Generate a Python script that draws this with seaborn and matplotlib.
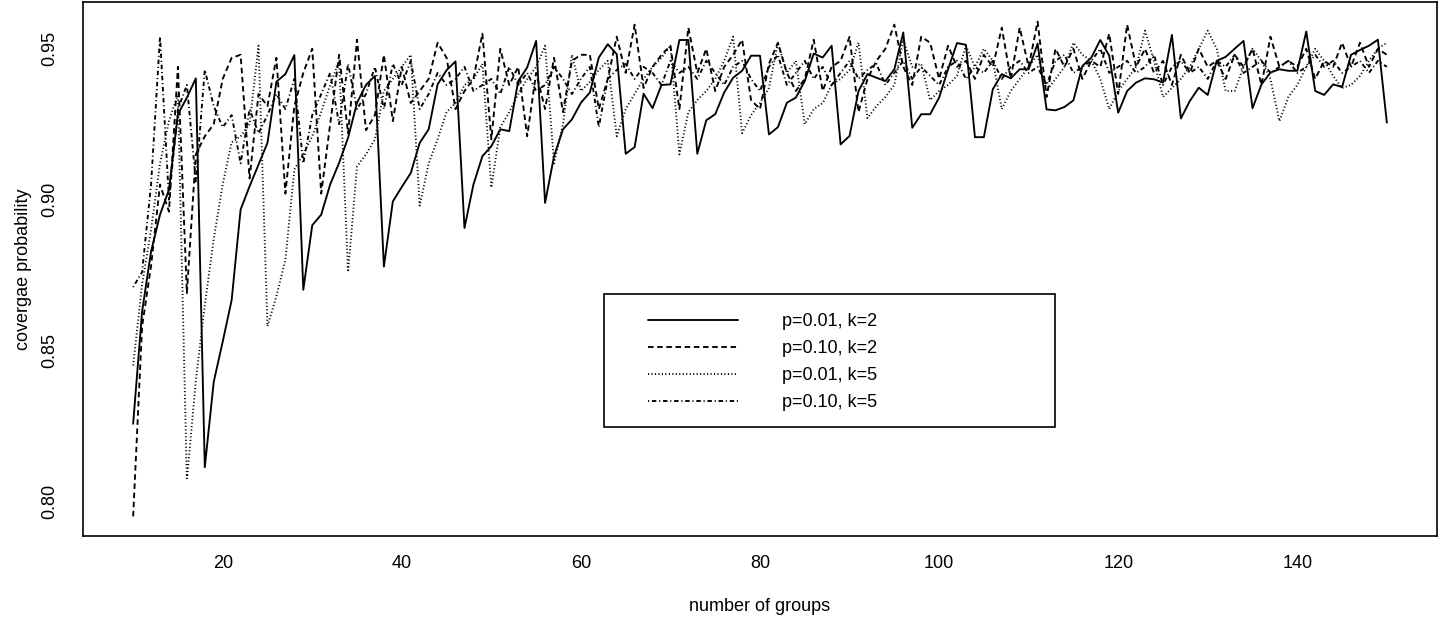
import numpy as np
import pandas as pd
import matplotlib
matplotlib.use("Agg")
import matplotlib.pyplot as plt
from matplotlib.patches import Rectangle
import seaborn as sns

groups = list(range(10, 151))

cov_p01_k2 = [
    0.8257, 0.8629, 0.8828, 0.8950, 0.9033, 0.9283, 0.9338, 0.9402, 0.8113, 0.8396,
    0.8529, 0.8667, 0.8967, 0.9044, 0.9116, 0.9188, 0.9391, 0.9416, 0.9479, 0.8701,
    0.8915, 0.8950, 0.9050, 0.9122, 0.9205, 0.9321, 0.9380, 0.9410, 0.8778, 0.8994,
    0.9042, 0.9088, 0.9188, 0.9233, 0.9382, 0.9429, 0.9458, 0.8906, 0.9050, 0.9144,
    0.9177, 0.9233, 0.9227, 0.9393, 0.9438, 0.9526, 0.8989, 0.9144, 0.9233, 0.9266,
    0.9321, 0.9355, 0.9471, 0.9515, 0.9482, 0.9152, 0.9174, 0.9351, 0.9303, 0.9380,
    0.9382, 0.9529, 0.9529, 0.9152, 0.9263, 0.9283, 0.9355, 0.9404, 0.9427, 0.9477,
    0.9477, 0.9216, 0.9240, 0.9321, 0.9338, 0.9393, 0.9484, 0.9471, 0.9510, 0.9183,
    0.9211, 0.9360, 0.9416, 0.9404, 0.9393, 0.9432, 0.9554, 0.9238, 0.9283, 0.9283,
    0.9338, 0.9432, 0.9519, 0.9513, 0.9207, 0.9207, 0.9366, 0.9416, 0.9402, 0.9432,
    0.9432, 0.9517, 0.9299, 0.9296, 0.9307, 0.9329, 0.9443, 0.9471, 0.9529, 0.9477,
    0.9288, 0.9360, 0.9388, 0.9402, 0.9399, 0.9388, 0.9546, 0.9269, 0.9327, 0.9371,
    0.9347, 0.9460, 0.9473, 0.9500, 0.9526, 0.9303, 0.9382, 0.9421, 0.9432, 0.9427,
    0.9427, 0.9557, 0.9360, 0.9347, 0.9382, 0.9373, 0.9480, 0.9496, 0.9510, 0.9530,
    0.9255,
]

cov_p10_k2 = [
    0.795, 0.858, 0.878, 0.905, 0.896, 0.944, 0.869, 0.915, 0.921, 0.925,
    0.940, 0.947, 0.948, 0.907, 0.935, 0.931, 0.947, 0.902, 0.931, 0.942,
    0.950, 0.902, 0.925, 0.948, 0.922, 0.953, 0.923, 0.928, 0.948, 0.926,
    0.944, 0.932, 0.936, 0.940, 0.952, 0.947, 0.930, 0.936, 0.940, 0.955,
    0.920, 0.950, 0.938, 0.944, 0.921, 0.942, 0.930, 0.947, 0.929, 0.946,
    0.948, 0.948, 0.930, 0.940, 0.954, 0.942, 0.958, 0.937, 0.944, 0.948,
    0.951, 0.930, 0.957, 0.942, 0.950, 0.936, 0.944, 0.948, 0.953, 0.933,
    0.930, 0.945, 0.952, 0.942, 0.936, 0.940, 0.953, 0.936, 0.944, 0.946,
    0.954, 0.929, 0.940, 0.946, 0.950, 0.958, 0.944, 0.938, 0.954, 0.952,
    0.940, 0.951, 0.944, 0.946, 0.940, 0.948, 0.944, 0.957, 0.940, 0.957,
    0.944, 0.959, 0.934, 0.950, 0.944, 0.950, 0.940, 0.946, 0.944, 0.955,
    0.935, 0.958, 0.944, 0.950, 0.942, 0.946, 0.938, 0.948, 0.942, 0.950,
    0.944, 0.946, 0.940, 0.948, 0.944, 0.950, 0.938, 0.954, 0.944, 0.946,
    0.944, 0.950, 0.940, 0.946, 0.944, 0.952, 0.944, 0.952, 0.944, 0.950,
    0.948,
]

cov_p01_k5 = [
    0.845, 0.872, 0.890, 0.912, 0.926, 0.935, 0.807, 0.840, 0.865, 0.887,
    0.905, 0.919, 0.921, 0.925, 0.951, 0.858, 0.868, 0.880, 0.910, 0.915,
    0.921, 0.929, 0.938, 0.946, 0.876, 0.911, 0.915, 0.920, 0.936, 0.940,
    0.944, 0.948, 0.898, 0.912, 0.920, 0.929, 0.932, 0.938, 0.940, 0.945,
    0.904, 0.924, 0.929, 0.935, 0.940, 0.944, 0.951, 0.912, 0.925, 0.948,
    0.936, 0.939, 0.943, 0.946, 0.921, 0.930, 0.935, 0.940, 0.944, 0.947,
    0.951, 0.915, 0.929, 0.933, 0.936, 0.940, 0.946, 0.954, 0.922, 0.928,
    0.932, 0.937, 0.952, 0.942, 0.946, 0.925, 0.930, 0.932, 0.938, 0.940,
    0.943, 0.952, 0.927, 0.931, 0.934, 0.938, 0.953, 0.944, 0.945, 0.933,
    0.936, 0.938, 0.941, 0.951, 0.944, 0.950, 0.946, 0.930, 0.936, 0.940,
    0.944, 0.948, 0.936, 0.940, 0.944, 0.952, 0.948, 0.946, 0.940, 0.930,
    0.936, 0.940, 0.944, 0.956, 0.946, 0.934, 0.937, 0.940, 0.944, 0.950,
    0.956, 0.950, 0.936, 0.936, 0.944, 0.950, 0.946, 0.940, 0.926, 0.934,
    0.938, 0.944, 0.950, 0.946, 0.941, 0.937, 0.938, 0.941, 0.946, 0.950,
    0.952,
]

cov_p10_k5 = [
    0.871, 0.876, 0.905, 0.954, 0.900, 0.930, 0.938, 0.906, 0.943, 0.931,
    0.924, 0.928, 0.912, 0.930, 0.922, 0.928, 0.935, 0.930, 0.940, 0.912,
    0.928, 0.935, 0.942, 0.925, 0.945, 0.930, 0.935, 0.944, 0.930, 0.945,
    0.938, 0.946, 0.930, 0.935, 0.942, 0.938, 0.940, 0.944, 0.936, 0.938,
    0.940, 0.935, 0.944, 0.938, 0.942, 0.936, 0.938, 0.944, 0.940, 0.935,
    0.940, 0.944, 0.924, 0.940, 0.943, 0.945, 0.940, 0.944, 0.942, 0.938,
    0.946, 0.942, 0.944, 0.940, 0.946, 0.942, 0.938, 0.944, 0.946, 0.940,
    0.936, 0.944, 0.948, 0.938, 0.942, 0.946, 0.940, 0.944, 0.938, 0.942,
    0.946, 0.940, 0.943, 0.945, 0.938, 0.942, 0.946, 0.940, 0.944, 0.941,
    0.938, 0.944, 0.946, 0.940, 0.944, 0.942, 0.946, 0.940, 0.944, 0.946,
    0.942, 0.944, 0.938, 0.946, 0.948, 0.942, 0.944, 0.946, 0.950, 0.942,
    0.944, 0.946, 0.942, 0.944, 0.948, 0.938, 0.944, 0.946, 0.942, 0.944,
    0.940, 0.946, 0.944, 0.948, 0.942, 0.944, 0.946, 0.942, 0.944, 0.946,
    0.942, 0.944, 0.948, 0.944, 0.946, 0.942, 0.944, 0.946, 0.942, 0.946,
    0.944,
]

series_labels = ["p=0.01, k=2", "p=0.10, k=2", "p=0.01, k=5", "p=0.10, k=5"]
x_ticks = [20, 40, 60, 80, 100, 120, 140]
y_ticks = [0.80, 0.85, 0.90, 0.95]
y_tick_labels = ["0.80", "0.85", "0.90", "0.95"]

sns.set_theme(style="white")
plt.rcParams["font.family"] = ["Liberation Sans", "DejaVu Sans"]
plt.rcParams["lines.scale_dashes"] = False

W, H = 1439, 622
L, R, T, B = 83, 1437, 2, 536
fig = plt.figure(figsize=(W / 100, H / 100), dpi=100)
ax = fig.add_axes([L / W, 1 - B / H, (R - L) / W, (B - T) / H])

styles = ["-", (0, (4.0, 2.6)), (0, (0.8, 1.7)), (0, (0.8, 2.0, 3.2, 2.0))]
all_series = [cov_p01_k2, cov_p10_k2, cov_p01_k5, cov_p10_k5]
for vals, lab, ls in zip(all_series, series_labels, styles):
    sns.lineplot(x=groups, y=vals, ax=ax, color="black", linewidth=1.35,
                 linestyle=ls, label=lab, legend=False)

ax.set_xlim(4.4, 155.6)
ax.set_ylim(0.7885, 0.9655)
ax.set_xticks(x_ticks)
ax.set_xticklabels([str(t) for t in x_ticks])
ax.set_yticks(y_ticks)
ax.set_yticklabels(y_tick_labels, rotation=90, va="center")

fs = 13
for sp in ax.spines.values():
    sp.set_visible(True)
    sp.set_color("black")
    sp.set_linewidth(1.2)
ax.tick_params(axis="both", direction="out", length=8.5, width=1.0,
               colors="black", labelsize=fs)
ax.tick_params(axis="x", pad=5)
ax.tick_params(axis="y", pad=9)
ax.grid(False)

ax.set_xlabel("number of groups", fontsize=fs, color="black")
ax.set_ylabel("covergae probability", fontsize=fs, color="black")
ax.xaxis.set_label_coords(0.5, -(598 - B) / (B - T))
ax.yaxis.set_label_coords((32 - L) / (R - L), 0.5)

# legend frame (R-style square box)
fig.add_artist(Rectangle((604 / W, 1 - 427 / H), (1055 - 604) / W, (427 - 294) / H,
                         transform=fig.transFigure, fill=False, edgecolor="black",
                         linewidth=1.2))
handles = ax.get_lines()[:4]
leg = ax.legend(handles, series_labels, loc="upper left",
                bbox_to_anchor=(648 / W, 1 - 313.5 / H), bbox_transform=fig.transFigure,
                frameon=False, fontsize=fs, handlelength=5.0, handletextpad=2.4,
                labelspacing=0.55, borderpad=0, borderaxespad=0)
for t in leg.get_texts():
    t.set_color("black")

fig.savefig("out.png", dpi=100, facecolor="white")
